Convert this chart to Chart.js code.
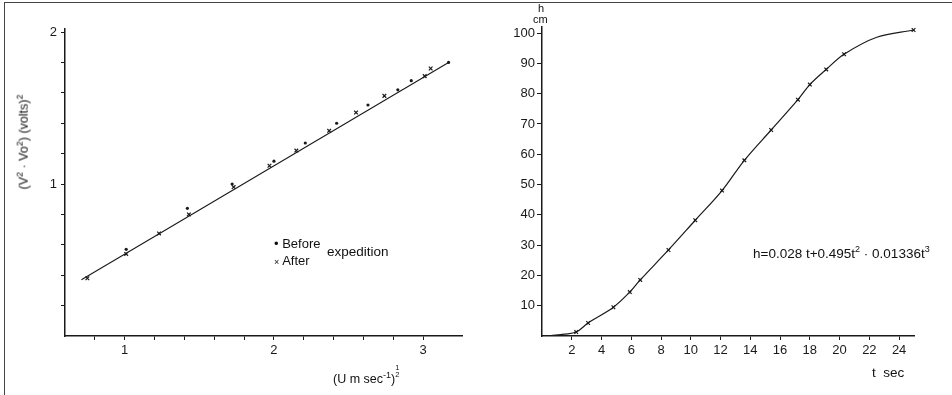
<!DOCTYPE html>
<html>
<head>
<meta charset="utf-8">
<script src="https://cdn.jsdelivr.net/npm/chart.js@4.4.1/dist/chart.umd.min.js"></script>
<style>
  body { margin: 0; background: #fff; }
  #wrap { position: relative; width: 952px; height: 395px; font-family: "Liberation Sans", Arial, sans-serif; color: #111; }
  #frame { position: absolute; left: 4px; top: 2px; width: 950px; height: 400px; border-top: 1.5px solid #444; border-left: 1.5px solid #444; }
  canvas { position: absolute; top: 0; }
  .lbl { position: absolute; font-size: 13.5px; white-space: nowrap; line-height: 1; }
  sup { font-size: 9px; }
</style>
</head>
<body>
<div id="wrap">
  <div id="frame"></div>
  <canvas id="left" width="480" height="395" style="left:0"></canvas>
  <canvas id="right" width="472" height="395" style="left:480px"></canvas>

  <div class="lbl" style="left:23px;top:142px;transform:translate(-50%,-50%) rotate(-90deg);font-size:12.5px">(V<sup>2</sup> · Vo<sup>2</sup>) (volts)<sup>2</sup></div>
  <div class="lbl" style="left:333px;top:364px;font-size:12.5px">(U m sec<sup>-1</sup>)<span style="display:inline-block;vertical-align:6px;font-size:7.5px;line-height:7px;text-align:center">1<br>2</span></div>
  <div class="lbl" style="left:274px;top:237px;font-size:13px">• Before</div>
  <div class="lbl" style="left:274px;top:254px;font-size:13px"><span style="font-size:9px">×</span> After</div>
  <div class="lbl" style="left:327px;top:245px">expedition</div>

  <div class="lbl" style="left:538px;top:3px;font-size:11px">h</div>
  <div class="lbl" style="left:533px;top:14px;font-size:11px">cm</div>
  <div class="lbl" style="left:872px;top:366px">t&nbsp; sec</div>
  <div class="lbl" style="left:753px;top:245px">h=0.028 t+0.495t<sup>2</sup> · 0.01336t<sup>3</sup></div>
</div>
<script>
// left panel: calibration
var beforeX = [1.01, 1.42, 1.72, 2.00, 2.21, 2.42, 2.63, 2.83, 2.92, 3.17];
var beforeY = [0.57, 0.84, 1.00, 1.15, 1.27, 1.40, 1.52, 1.62, 1.68, 1.80];
var afterX = [0.75, 1.01, 1.23, 1.43, 1.73, 1.97, 2.15, 2.37, 2.55, 2.74, 3.01, 3.05];
var afterY = [0.38, 0.54, 0.675, 0.80, 0.98, 1.12, 1.22, 1.35, 1.47, 1.58, 1.71, 1.76];
var fitX = [0.71, 3.17];
var fitY = [0.37, 1.80];
var leftXTicks = [0.8, 1, 1.2, 1.4, 1.6, 1.8, 2, 2.2, 2.4, 2.6, 2.8, 3];
var leftYTicks = [0.2, 0.4, 0.6, 0.8, 1, 1.2, 1.4, 1.6, 1.8, 2];

// right panel: height vs time
var hTime = [2.3, 3.1, 4.8, 5.9, 6.6, 8.5, 10.3, 12.1, 13.6, 15.4, 17.2, 18.0, 19.1, 20.3, 24.97];
var hHeight = [1.3, 4.3, 9.5, 14.5, 18.5, 28.4, 38.2, 48.0, 58.0, 68.0, 78.0, 83.0, 88.0, 93.0, 101.0];
var curveT = [0.6, 1.5, 2.3, 3.1, 4.8, 5.9, 6.6, 8.5, 10.3, 12.1, 13.6, 15.4, 17.2, 18.0, 19.1, 20.3, 22.5, 24.97];
var curveH = [0.1, 0.6, 1.3, 4.3, 9.5, 14.5, 18.5, 28.4, 38.2, 48.0, 58.0, 68.0, 78.0, 83.0, 88.0, 93.0, 98.6, 101.0];
var rightXTicks = [2, 4, 6, 8, 10, 12, 14, 16, 18, 20, 22, 24];
var rightYTicks = [10, 20, 30, 40, 50, 60, 70, 80, 90, 100];

function pts(xs, ys) {
    var out = [];
    for (var i in xs) out.push({x: xs[i], y: ys[i]});
    return out;
}
function fixedTicks(list) {
    return function(s) { s.ticks = list.map(function(v) { return {value: v}; }); };
}
function wholeOnly(v) {
    return Math.abs(v - Math.round(v)) < 1e-6 ? String(Math.round(v)) : '';
}

var ink = '#1a1a1a';
var font = {family: '"Liberation Sans", Arial, sans-serif', size: 13};

new Chart(document.getElementById('left'), {
    type: 'scatter',
    data: {
        datasets: [
            {data: pts(fitX, fitY), showLine: true, borderColor: ink, borderWidth: 1.1, pointRadius: 0},
            {label: 'Before', data: pts(beforeX, beforeY), pointStyle: 'circle', pointRadius: 1.6, backgroundColor: ink, borderColor: ink, borderWidth: 0, clip: false},
            {label: 'After', data: pts(afterX, afterY), pointStyle: 'crossRot', pointRadius: 2.6, borderColor: ink, borderWidth: 1.2, clip: false}
        ]
    },
    options: {
        responsive: false,
        animation: false,
        layout: {padding: {left: 0, right: 18, top: 29, bottom: 0}},
        plugins: {legend: {display: false}, tooltip: {enabled: false}},
        scales: {
            x: {
                type: 'linear', min: 0.6, max: 3.26,
                afterBuildTicks: fixedTicks(leftXTicks),
                afterFit: function(s) { s.height = 59; },
                border: {color: ink, width: 1.5},
                grid: {drawOnChartArea: false, tickLength: 4, color: ink},
                ticks: {color: ink, font: font, padding: 3, maxRotation: 0, autoSkip: false, callback: wholeOnly}
            },
            y: {
                type: 'linear', min: 0, max: 2.02,
                afterBuildTicks: fixedTicks(leftYTicks),
                afterFit: function(s) { s.width = 65; },
                border: {color: ink, width: 1.5},
                grid: {drawOnChartArea: false, tickLength: 4, color: ink},
                ticks: {color: ink, font: font, padding: 4, autoSkip: false, callback: wholeOnly}
            }
        }
    }
});

new Chart(document.getElementById('right'), {
    type: 'scatter',
    data: {
        datasets: [
            {data: pts(curveT, curveH), showLine: true, tension: 0.35, borderColor: ink, borderWidth: 1.2, pointRadius: 0},
            {data: pts(hTime, hHeight), pointStyle: 'crossRot', pointRadius: 2.6, borderColor: ink, borderWidth: 1.2, clip: false}
        ]
    },
    options: {
        responsive: false,
        animation: false,
        layout: {padding: {left: 0, right: 38, top: 27, bottom: 0}},
        plugins: {legend: {display: false}, tooltip: {enabled: false}},
        scales: {
            x: {
                type: 'linear', min: 0, max: 25,
                afterBuildTicks: fixedTicks(rightXTicks),
                afterFit: function(s) { s.height = 59; },
                border: {color: ink, width: 1.5},
                grid: {drawOnChartArea: false, tickLength: 4, color: ink},
                ticks: {color: ink, font: font, padding: 3, maxRotation: 0, autoSkip: false}
            },
            y: {
                type: 'linear', min: 0, max: 102,
                afterBuildTicks: fixedTicks(rightYTicks),
                afterFit: function(s) { s.width = 62; },
                border: {color: ink, width: 1.5},
                grid: {drawOnChartArea: false, tickLength: 5, color: ink},
                ticks: {color: ink, font: font, padding: 2, autoSkip: false}
            }
        }
    }
});
</script>
</body>
</html>
